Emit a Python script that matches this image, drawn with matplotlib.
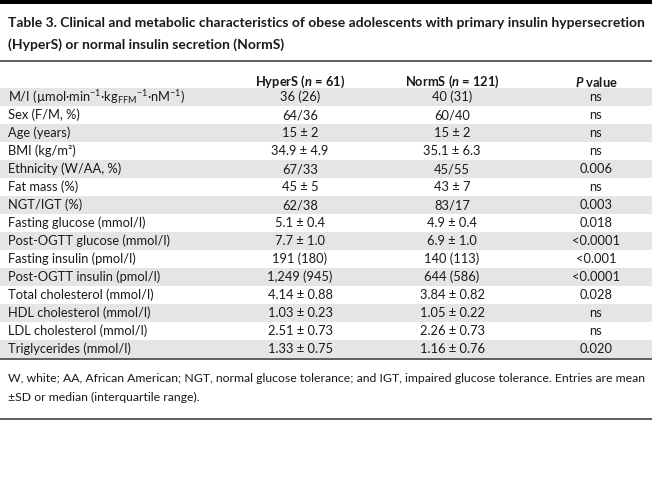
import matplotlib
matplotlib.use('Agg')
import matplotlib.pyplot as plt
from matplotlib import font_manager

# table content
title_lines = [
    'Table 3. Clinical and metabolic characteristics of obese adolescents with primary insulin hypersecretion',
    '(HyperS) or normal insulin secretion (NormS)',
]
col_headers = ['', r'HyperS ($\mathbfit{n}$ = 61)', r'NormS ($\mathbfit{n}$ = 121)', r'$\mathbfit{P}$ value']
labels = [
    r'M/I (µmol·min$^{-1}$·kg$_{\mathrm{FFM}}$$^{-1}$·nM$^{-1}$)',
    'Sex (F/M, %)',
    'Age (years)',
    'BMI (kg/m²)',
    'Ethnicity (W/AA, %)',
    'Fat mass (%)',
    'NGT/IGT (%)',
    'Fasting glucose (mmol/l)',
    'Post-OGTT glucose (mmol/l)',
    'Fasting insulin (pmol/l)',
    'Post-OGTT insulin (pmol/l)',
    'Total cholesterol (mmol/l)',
    'HDL cholesterol (mmol/l)',
    'LDL cholesterol (mmol/l)',
    'Triglycerides (mmol/l)',
]
hypers = ['36 (26)', '64/36', '15 ± 2', '34.9 ± 4.9', '67/33', '45 ± 5', '62/38',
          '5.1 ± 0.4', '7.7 ± 1.0', '191 (180)', '1,249 (945)', '4.14 ± 0.88',
          '1.03 ± 0.23', '2.51 ± 0.73', '1.33 ± 0.75']
norms = ['40 (31)', '60/40', '15 ± 2', '35.1 ± 6.3', '45/55', '43 ± 7', '83/17',
         '4.9 ± 0.4', '6.9 ± 1.0', '140 (113)', '644 (586)', '3.84 ± 0.82',
         '1.05 ± 0.22', '2.26 ± 0.73', '1.16 ± 0.76']
pvals = ['ns', 'ns', 'ns', 'ns', '0.006', 'ns', '0.003', '0.018', '<0.0001',
         '<0.001', '<0.0001', '0.028', 'ns', 'ns', '0.020']
footnote = [
    'W, white; AA, African American; NGT, normal glucose tolerance; and IGT, impaired glucose tolerance. Entries are mean',
    '±SD or median (interquartile range).',
]

# pick a narrow font if there is one
names = {f.name for f in font_manager.fontManager.ttflist}
font = 'Liberation Sans Narrow' if 'Liberation Sans Narrow' in names else 'Lato'
plt.rcParams['font.family'] = [font, 'DejaVu Sans']
plt.rcParams['mathtext.fontset'] = 'custom'
plt.rcParams['mathtext.rm'] = font
plt.rcParams['mathtext.it'] = font + ':italic'
plt.rcParams['mathtext.bf'] = font + ':bold'
plt.rcParams['mathtext.bfit'] = font + ':bold:italic'

W, H = 652, 482
fig = plt.figure(figsize=(W / 100, H / 100), dpi=100)
ax = fig.add_axes([0, 0, 1, 1])
ax.set_xlim(0, W)
ax.set_ylim(H, 0)
ax.axis('off')

txt = '#1a1a1a'
rule = '#333333'
band = '#e5e5e5'
body = 9.3

# top black bar
ax.axhspan(0, 4, color='black', lw=0)

# title, shrink to fit the width
t1 = ax.text(8, 23, title_lines[0], fontsize=10.5, fontweight='bold', color=txt, va='center')
t2 = ax.text(8, 45, title_lines[1], fontsize=10.5, fontweight='bold', color=txt, va='center')
fig.canvas.draw()
r = fig.canvas.get_renderer()
w = t1.get_window_extent(r).width
fs = 10.5 * 637 / w
t1.set_fontsize(fs)
t2.set_fontsize(fs)

ax.axhline(61, color=rule, lw=1.1)

col_x = [8, 300, 452, 596]
top, step = 88, 18.0
for j in range(1, 4):
    ax.text(col_x[j], 82, col_headers[j], ha='center', va='center', fontsize=body,
            fontweight='bold', color=txt)

for i, lab in enumerate(labels):
    y = top + (i + 0.5) * step
    if i % 2 == 0:
        ax.axhspan(y - step / 2, y + step / 2, color=band, lw=0, zorder=0)
    ax.text(col_x[0], y, lab, va='center', fontsize=body, color=txt)
    ax.text(col_x[1], y, hypers[i], ha='center', va='center', fontsize=body, color=txt)
    ax.text(col_x[2], y, norms[i], ha='center', va='center', fontsize=body, color=txt)
    ax.text(col_x[3], y, pvals[i], ha='center', va='center', fontsize=body, color=txt)

y_end = top + len(labels) * step + 1
ax.axhline(y_end, color=rule, lw=1.1)

ax.text(8, 378, footnote[0], va='center', fontsize=8.8, color=txt)
ax.text(8, 397, footnote[1], va='center', fontsize=8.8, color=txt)
ax.axhline(419, color=rule, lw=1.1)

fig.savefig('out.png', dpi=100, facecolor='white')
